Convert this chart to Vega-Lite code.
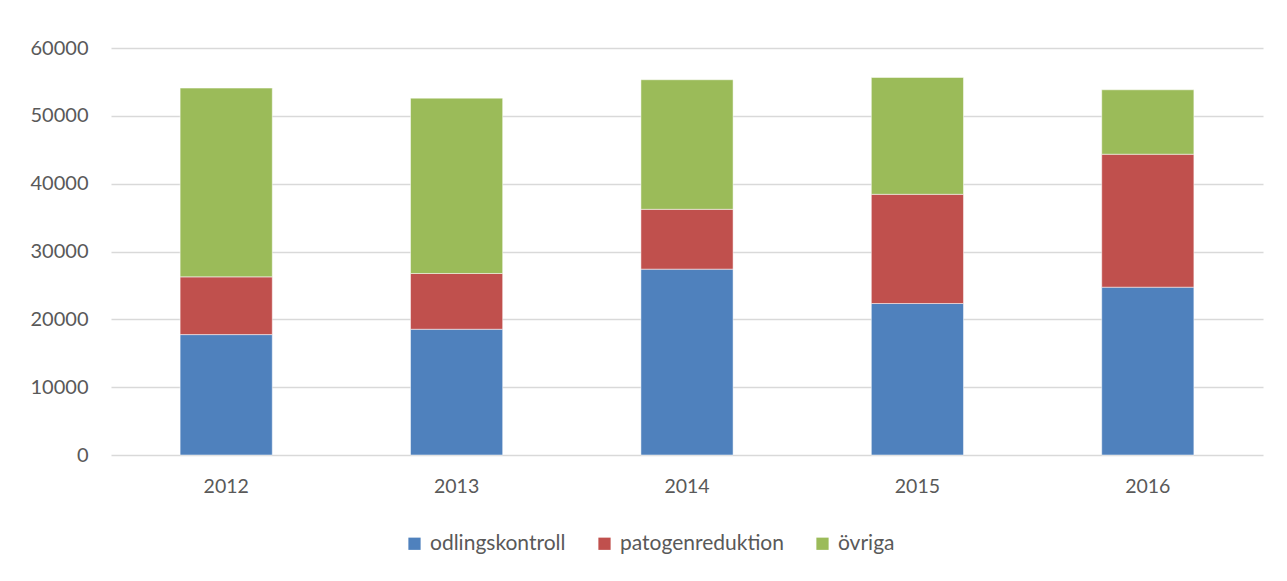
{
  "$schema": "https://vega.github.io/schema/vega-lite/v6.json",
  "width": 1152,
  "height": 407,
  "autosize": {"type": "none"},
  "padding": {"left": 111, "top": 48, "right": 24, "bottom": 126},
  "background": "white",
  "data": {
    "values": [
      {"year": "2012", "typ": "odlingskontroll", "k": 1, "v": 17750},
      {"year": "2012", "typ": "patogenreduktion", "k": 2, "v": 8510},
      {"year": "2012", "typ": "övriga", "k": 3, "v": 27830},
      {"year": "2013", "typ": "odlingskontroll", "k": 1, "v": 18540},
      {"year": "2013", "typ": "patogenreduktion", "k": 2, "v": 8220},
      {"year": "2013", "typ": "övriga", "k": 3, "v": 25850},
      {"year": "2014", "typ": "odlingskontroll", "k": 1, "v": 27400},
      {"year": "2014", "typ": "patogenreduktion", "k": 2, "v": 8820},
      {"year": "2014", "typ": "övriga", "k": 3, "v": 19100},
      {"year": "2015", "typ": "odlingskontroll", "k": 1, "v": 22330},
      {"year": "2015", "typ": "patogenreduktion", "k": 2, "v": 16100},
      {"year": "2015", "typ": "övriga", "k": 3, "v": 17230},
      {"year": "2016", "typ": "odlingskontroll", "k": 1, "v": 24740},
      {"year": "2016", "typ": "patogenreduktion", "k": 2, "v": 19600},
      {"year": "2016", "typ": "övriga", "k": 3, "v": 9500}
    ]
  },
  "mark": {"type": "bar", "stroke": "white", "strokeWidth": 0.5},
  "encoding": {
    "x": {
      "field": "year", "type": "nominal", "title": null,
      "scale": {"paddingInner": 0.6, "paddingOuter": 0.3},
      "axis": {"labelAngle": 0, "ticks": false, "domain": false, "labelPadding": 22, "labelFontSize": 19.5, "labelColor": "#595959", "labelFont": "Lato"}
    },
    "y": {
      "field": "v", "type": "quantitative", "stack": "zero", "title": null,
      "scale": {"domain": [0, 60000]},
      "axis": {"values": [0, 10000, 20000, 30000, 40000, 50000, 60000], "ticks": false, "domain": false, "labelPadding": 23, "labelFontSize": 20, "labelColor": "#595959", "labelFont": "Lato", "gridColor": "#d9d9d9", "gridWidth": 1.5, "format": "d"}
    },
    "color": {
      "field": "typ", "type": "nominal",
      "scale": {"domain": ["odlingskontroll", "patogenreduktion", "övriga"], "range": ["#4F81BD", "#C0504D", "#9BBB59"]},
      "legend": {"title": null, "orient": "none", "direction": "horizontal", "legendX": 293, "legendY": 485, "symbolType": "square", "symbolSize": 150, "symbolStrokeWidth": 0, "labelFontSize": 21, "labelFont": "Lato", "labelColor": "#595959", "labelLimit": 400, "columnPadding": 28, "labelOffset": 5}
    },
    "order": {"field": "k", "type": "quantitative"}
  },
  "config": {"view": {"stroke": null}}
}
